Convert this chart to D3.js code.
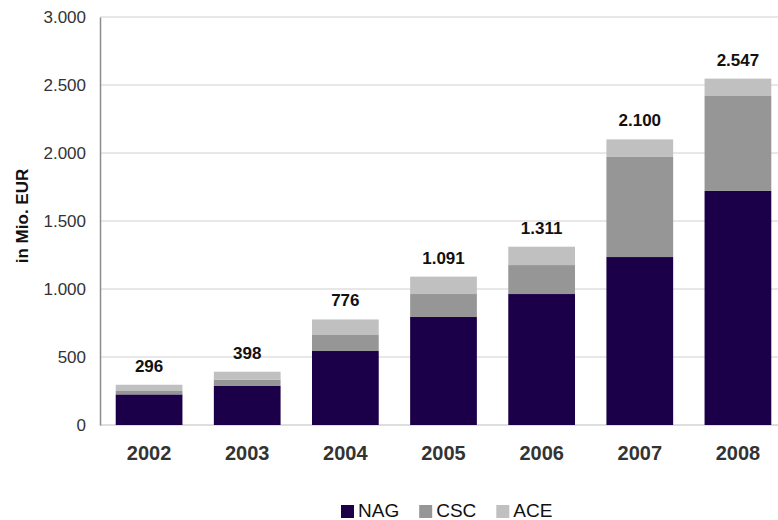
<!DOCTYPE html>
<html>
<head>
<meta charset="utf-8">
<script src="https://cdn.jsdelivr.net/npm/d3@7"></script>
<style>
  body { margin: 0; background: #fff; }
  text { font-family: "Liberation Sans", Arial, sans-serif; }
</style>
</head>
<body>
<div id="chart"></div>
<script>
var svgWidth = 778;
var svgHeight = 520;

// data (Mio. EUR)
var years = ["2002", "2003", "2004", "2005", "2006", "2007", "2008"];
var nag = [225, 287, 544, 794, 963, 1235, 1721];
var csc = [25, 45, 118, 169, 213, 736, 698];
var ace = [46, 60, 114, 128, 135, 129, 128];
var totals = ["296", "398", "776", "1.091", "1.311", "2.100", "2.547"];
var yTicks = [0, 500, 1000, 1500, 2000, 2500, 3000];

var seriesNames = ["NAG", "CSC", "ACE"];
var seriesColors = ["#1b0049", "#969696", "#c0c0c0"];

var margin = { top: 17, left: 100, bottom: 95 };
var plotWidth = 687;
var height = svgHeight - margin.top - margin.bottom;

var svg = d3.select("#chart")
    .append("svg")
    .attr("width", svgWidth)
    .attr("height", svgHeight);

var chartGroup = svg.append("g")
    .attr("transform", `translate(${margin.left}, ${margin.top})`);

var xScale = d3.scaleBand()
    .domain(years)
    .range([0, plotWidth])
    .paddingInner(0.32)
    .paddingOuter(0.16);

var yScale = d3.scaleLinear()
    .domain([0, 3000])
    .range([height, 0]);

// gridlines
chartGroup.selectAll(".grid")
    .data(yTicks)
    .enter()
    .append("line")
    .attr("x1", 0)
    .attr("x2", plotWidth)
    .attr("y1", d => yScale(d))
    .attr("y2", d => yScale(d))
    .attr("stroke", d => d === 0 ? "#bdbdbd" : "#d0d0d0")
    .attr("stroke-width", 1);

// y axis
var leftAxis = d3.axisLeft(yScale)
    .tickValues(yTicks)
    .tickSize(0)
    .tickPadding(14)
    .tickFormat(d => d3.format(",")(d).replace(/,/g, "."));

var yAxis = chartGroup.append("g").call(leftAxis);
yAxis.select(".domain").attr("stroke", "#8c8c8c").attr("stroke-width", 1.5);
yAxis.selectAll("text")
    .attr("font-size", 17)
    .attr("fill", "#333")
    .attr("font-family", "Liberation Sans, Arial, sans-serif");

// x axis labels
var bottomAxis = d3.axisBottom(xScale).tickSize(0).tickPadding(21);
var xAxis = chartGroup.append("g")
    .attr("transform", `translate(0, ${height})`)
    .call(bottomAxis);
xAxis.select(".domain").remove();
xAxis.selectAll("text")
    .attr("font-size", 20)
    .attr("font-weight", "bold")
    .attr("fill", "#333")
    .attr("font-family", "Liberation Sans, Arial, sans-serif");

// stacked bars
var table = years.map((y, i) => ({ year: y, NAG: nag[i], CSC: csc[i], ACE: ace[i] }));
var stacked = d3.stack().keys(seriesNames)(table);

chartGroup.selectAll(".series")
    .data(stacked)
    .enter()
    .append("g")
    .attr("fill", (d, i) => seriesColors[i])
    .selectAll("rect")
    .data(d => d)
    .enter()
    .append("rect")
    .attr("x", d => xScale(d.data.year))
    .attr("width", xScale.bandwidth())
    .attr("y", d => yScale(d[1]))
    .attr("height", d => yScale(d[0]) - yScale(d[1]));

// total labels
chartGroup.selectAll(".total")
    .data(table)
    .enter()
    .append("text")
    .attr("x", d => xScale(d.year) + xScale.bandwidth() / 2)
    .attr("y", d => yScale(d.NAG + d.CSC + d.ACE) - 13)
    .attr("text-anchor", "middle")
    .attr("font-size", 17)
    .attr("font-weight", "bold")
    .attr("fill", "#111")
    .text((d, i) => totals[i]);

// y axis title
svg.append("text")
    .attr("transform", "translate(28, 216) rotate(-90)")
    .attr("text-anchor", "middle")
    .attr("font-size", 17)
    .attr("font-weight", "bold")
    .attr("fill", "#111")
    .text("in Mio. EUR");

// legend
var legend = svg.append("g").attr("transform", "translate(341, 0)");
var lx = 0;
seriesNames.forEach(function (name, i) {
    legend.append("rect")
        .attr("x", lx)
        .attr("y", 505)
        .attr("width", 13)
        .attr("height", 13)
        .attr("fill", seriesColors[i]);
    var t = legend.append("text")
        .attr("x", lx + 17)
        .attr("y", 517)
        .attr("font-size", 19)
        .attr("fill", "#111")
        .text(name);
    lx += 17 + t.node().getComputedTextLength() + 20;
});
</script>
</body>
</html>
